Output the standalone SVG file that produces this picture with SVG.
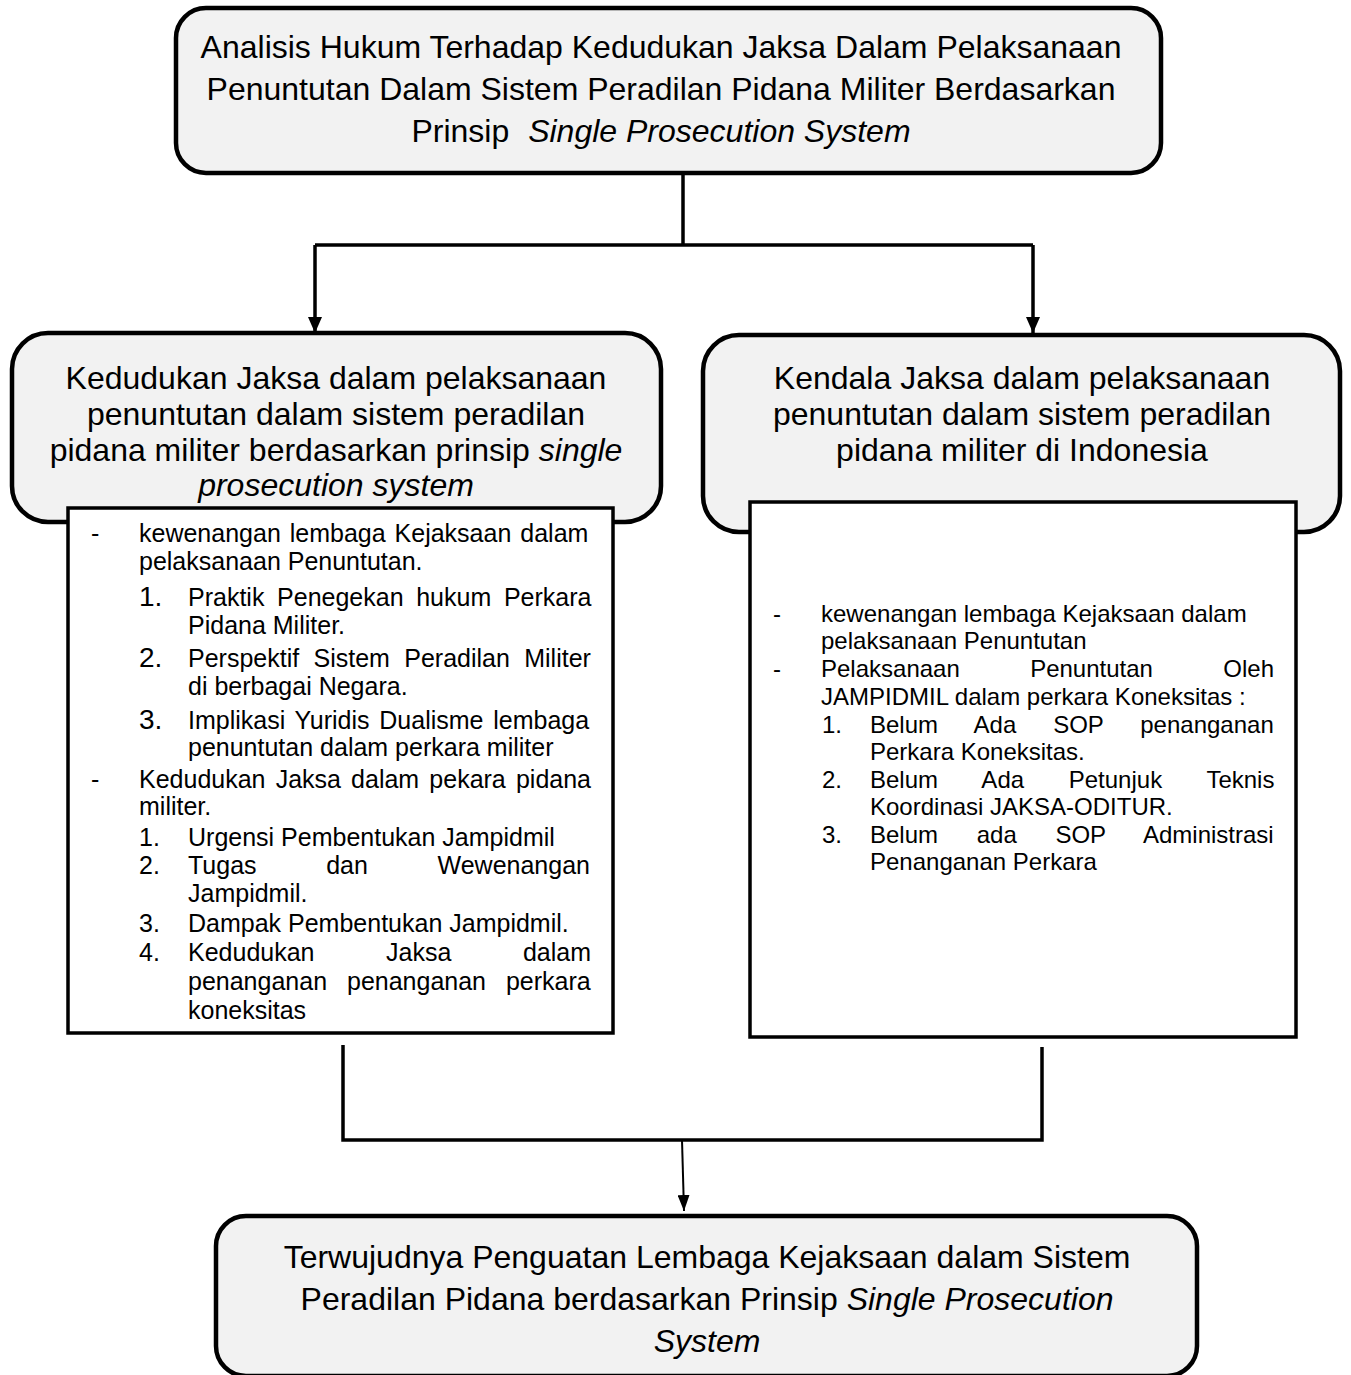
<svg xmlns="http://www.w3.org/2000/svg" width="1351" height="1375" viewBox="0 0 1351 1375">
<style>
.rbox{fill:#f2f2f2;stroke:#000;stroke-width:4.5}
.ibox{fill:#fff;stroke:#000;stroke-width:3.5}
.t{font-family:"Liberation Sans",Arial,sans-serif;fill:#000}
.h{font-size:32px;text-anchor:middle}
.l{font-size:25px}
.r{font-size:24px}
.n{font-size:28px}
.i{font-style:italic}
.c{fill:none;stroke:#000;stroke-width:3.5}
.c2{fill:none;stroke:#000;stroke-width:2}
</style>
<defs>
<marker id="ah" viewBox="0 0 16 14" refX="16" refY="7" markerWidth="16" markerHeight="14" markerUnits="userSpaceOnUse" orient="auto"><path d="M0,0 L16,7 L0,14 z" fill="#000"/></marker>
<marker id="ah2" viewBox="0 0 16 12" refX="16" refY="6" markerWidth="16" markerHeight="12" markerUnits="userSpaceOnUse" orient="auto"><path d="M0,0 L16,6 L0,12 z" fill="#000"/></marker>
</defs>
<g id="connectors">
<path class="c" d="M683,175 V245"/>
<path class="c" d="M315,245 H1033"/>
<path class="c" d="M315,245 V333" marker-end="url(#ah)"/>
<path class="c" d="M1033,245 V333" marker-end="url(#ah)"/>
<path class="c" d="M343,1045 V1140 H1042 V1047"/>
<path class="c2" d="M682,1140 L684,1211" marker-end="url(#ah2)"/>
</g>
<g id="top">
<rect class="rbox" x="176" y="8" width="985" height="165" rx="30"/>
<text class="t h" x="661" y="58">Analisis Hukum Terhadap Kedudukan Jaksa Dalam Pelaksanaan</text>
<text class="t h" x="661" y="100">Penuntutan Dalam Sistem Peradilan Pidana Militer Berdasarkan</text>
<text class="t h" x="661" y="142">Prinsip <tspan class="i" dx="10">Single Prosecution System</tspan></text>
</g>
<g id="left">
<rect class="rbox" x="12" y="333" width="649" height="189" rx="36"/>
<text class="t h" x="336" y="389">Kedudukan Jaksa dalam pelaksanaan</text>
<text class="t h" x="336" y="425">penuntutan dalam sistem peradilan</text>
<text class="t h" x="336" y="461">pidana militer berdasarkan prinsip <tspan class="i">single</tspan></text>
<text class="t h i" x="336" y="496">prosecution system</text>
</g>
<g id="left-detail">
<rect class="ibox" x="68" y="508" width="545" height="525"/>
<text class="t l" x="91" y="542">-</text>
<text class="t l" x="139" y="542" word-spacing="2">kewenangan lembaga Kejaksaan dalam</text>
<text class="t l" x="139" y="570">pelaksanaan Penuntutan.</text>
<text class="t n" x="139" y="606">1.</text>
<text class="t l" x="188" y="606" word-spacing="5.7">Praktik Penegekan hukum Perkara</text>
<text class="t l" x="188" y="634">Pidana Militer.</text>
<text class="t n" x="139" y="667">2.</text>
<text class="t l" x="188" y="667" word-spacing="7.4">Perspektif Sistem Peradilan Militer</text>
<text class="t l" x="188" y="695">di berbagai Negara.</text>
<text class="t n" x="139" y="729">3.</text>
<text class="t l" x="188" y="729" word-spacing="2.8">Implikasi Yuridis Dualisme lembaga</text>
<text class="t l" x="188" y="756">penuntutan dalam perkara militer</text>
<text class="t l" x="91" y="788">-</text>
<text class="t l" x="139" y="788" word-spacing="3.2">Kedudukan Jaksa dalam pekara pidana</text>
<text class="t l" x="139" y="815">militer.</text>
<text class="t l" x="139" y="846">1.</text>
<text class="t l" x="188" y="846">Urgensi Pembentukan Jampidmil</text>
<text class="t l" x="139" y="874">2.</text>
<text class="t l" x="188" y="874" word-spacing="62.7">Tugas dan Wewenangan</text>
<text class="t l" x="188" y="902">Jampidmil.</text>
<text class="t l" x="139" y="932">3.</text>
<text class="t l" x="188" y="932">Dampak Pembentukan Jampidmil.</text>
<text class="t l" x="139" y="961">4.</text>
<text class="t l" x="188" y="961" word-spacing="64.6">Kedudukan Jaksa dalam</text>
<text class="t l" x="188" y="990" word-spacing="13">penanganan penanganan perkara</text>
<text class="t l" x="188" y="1019">koneksitas</text>
</g>
<g id="right">
<rect class="rbox" x="703" y="335" width="637" height="197" rx="36"/>
<text class="t h" x="1022" y="389">Kendala Jaksa dalam pelaksanaan</text>
<text class="t h" x="1022" y="425">penuntutan dalam sistem peradilan</text>
<text class="t h" x="1022" y="461">pidana militer di Indonesia</text>
</g>
<g id="right-detail">
<rect class="ibox" x="750" y="502" width="546" height="535"/>
<text class="t r" x="773" y="622">-</text>
<text class="t r" x="821" y="622">kewenangan lembaga Kejaksaan dalam</text>
<text class="t r" x="821" y="649">pelaksanaan Penuntutan</text>
<text class="t r" x="773" y="677">-</text>
<text class="t r" x="821" y="677" word-spacing="63.7">Pelaksanaan Penuntutan Oleh</text>
<text class="t r" x="821" y="705">JAMPIDMIL dalam perkara Koneksitas :</text>
<text class="t r" x="822" y="733">1.</text>
<text class="t r" x="870" y="733" word-spacing="30.2">Belum Ada SOP penanganan</text>
<text class="t r" x="870" y="760">Perkara Koneksitas.</text>
<text class="t r" x="822" y="788">2.</text>
<text class="t r" x="870" y="788" word-spacing="38">Belum Ada Petunjuk Teknis</text>
<text class="t r" x="870" y="815">Koordinasi JAKSA-ODITUR.</text>
<text class="t r" x="822" y="843">3.</text>
<text class="t r" x="870" y="843" word-spacing="32">Belum ada SOP Administrasi</text>
<text class="t r" x="870" y="870">Penanganan Perkara</text>
</g>
<g id="bottom">
<rect class="rbox" x="216" y="1216" width="981" height="160" rx="30"/>
<text class="t h" x="707" y="1268">Terwujudnya Penguatan Lembaga Kejaksaan dalam Sistem</text>
<text class="t h" x="707" y="1310">Peradilan Pidana berdasarkan Prinsip <tspan class="i">Single Prosecution</tspan></text>
<text class="t h i" x="707" y="1352">System</text>
</g>
</svg>
